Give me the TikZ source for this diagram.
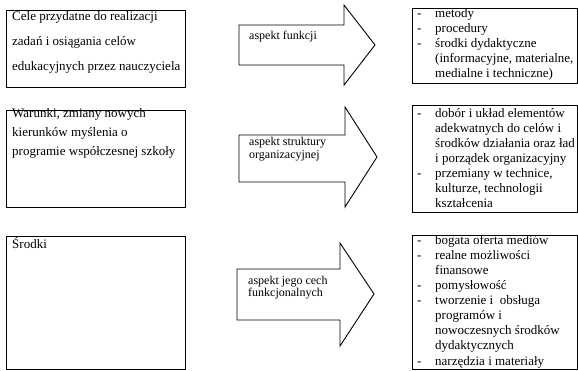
\documentclass[tikz,border=0pt]{standalone}
\usepackage{fontspec}
\setmainfont{Liberation Serif}
\begin{document}
\begin{tikzpicture}[x=1pt,y=-1pt,
  box/.style={draw,line width=0.9pt,inner sep=0pt,anchor=north west},
  arrowshape/.style={draw,line width=0.9pt,line join=miter},
  lefttxt/.style={anchor=base west,inner sep=0pt,font={\fontsize{13}{#1}\selectfont}},
  righttxt/.style={anchor=base west,inner sep=0pt,font={\fontsize{13}{15}\selectfont}},
  arrtxt/.style={anchor=base west,inner sep=0pt,font={\fontsize{12}{13}\selectfont}}]
\useasboundingbox (0,0) rectangle (578,371);
% left boxes
\node[box,minimum width=179pt,minimum height=77pt] (L1) at (6,10) {};
\node[box,minimum width=179pt,minimum height=97pt] (L2) at (6,110) {};
\node[box,minimum width=179pt,minimum height=133pt] (L3) at (6,236) {};
% right boxes
\node[box,minimum width=165pt,minimum height=75pt] (R1) at (412,8) {};
\node[box,minimum width=165pt,minimum height=107pt] (R2) at (412,105) {};
\node[box,minimum width=165pt,minimum height=134pt] (R3) at (412,235) {};
% arrows
\draw[arrowshape] (239,25) -- (344,25) -- (344,5) -- (375,45) -- (344,85) -- (344,65) -- (239,65) -- cycle;
\draw[arrowshape] (239,135) -- (345,135) -- (345,107) -- (377,157) -- (345,207) -- (345,182) -- (239,182) -- cycle;
\draw[arrowshape] (237,269) -- (340,269) -- (340,243) -- (374,294) -- (340,346) -- (340,320) -- (237,320) -- cycle;
% left texts
\node[lefttxt=25] (LT1) at (12,21) {\begin{tabular}[t]{@{}l@{}}Cele przydatne do realizacji\\ zadań i osiągania celów\\ edukacyjnych przez nauczyciela\end{tabular}};
\node[lefttxt=19] (LT2) at (12,118) {\begin{tabular}[t]{@{}l@{}}Warunki, zmiany nowych\\ kierunków myślenia o\\ programie współczesnej szkoły\end{tabular}};
\node[lefttxt=15] (LT3) at (12,249) {Środki};
% arrow texts
\node[arrtxt] (A1) at (249,40) {aspekt funkcji};
\node[arrtxt] (A2) at (249,146) {\begin{tabular}[t]{@{}l@{}}aspekt struktury\\ organizacyjnej\end{tabular}};
\node[arrtxt] (A3) at (248,284) {\begin{tabular}[t]{@{}l@{}}aspekt jego cech\\ funkcjonalnych\end{tabular}};
% right texts
\node[righttxt] (RT1) at (417,18) {\begin{tabular}[t]{@{}p{18pt}@{}l@{}}-&metody\\ -&procedury\\ -&środki dydaktyczne\\ &(informacyjne, materialne,\\ &medialne i techniczne)\end{tabular}};
\node[righttxt] (RT2) at (417,118) {\begin{tabular}[t]{@{}p{18pt}@{}l@{}}-&dobór i układ elementów\\ &adekwatnych do celów i\\ &środków działania oraz ład\\ &i porządek organizacyjny\\ -&przemiany w technice,\\ &kulturze, technologii\\ &kształcenia\end{tabular}};
\node[righttxt] (RT3) at (417,245) {\begin{tabular}[t]{@{}p{18pt}@{}l@{}}-&bogata oferta mediów\\ -&realne możliwości\\ &finansowe\\ -&pomysłowość\\ -&tworzenie i\ \ obsługa\\ &programów i\\ &nowoczesnych środków\\ &dydaktycznych\\ -&narzędzia i materiały\end{tabular}};
\end{tikzpicture}
\end{document}
